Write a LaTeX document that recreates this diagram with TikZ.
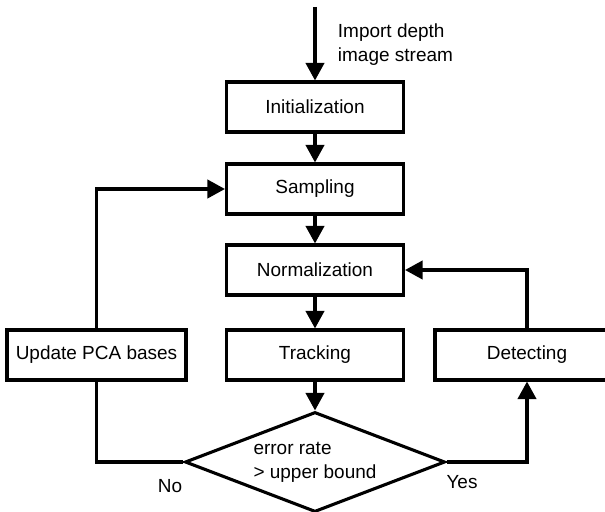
\documentclass[tikz,border=0pt]{standalone}
\usepackage{fontspec}
\setmainfont{Liberation Sans}
\usetikzlibrary{arrows.meta,shapes.geometric}

\begin{document}
\begin{tikzpicture}[x=0.025cm, y=-0.025cm,
		every node/.style={font=\fontsize{13.5pt}{17pt}\selectfont},
		stepbox/.style={draw, line width=2.2pt, minimum width=4.425cm, minimum height=1.25cm, inner sep=0pt},
		decide/.style={draw, diamond, aspect=2.6, line width=2.2pt, minimum width=6.5cm, minimum height=2.5cm, inner sep=0pt, align=left},
		flow/.style={line width=2.2pt, -{Triangle[length=0.44cm, width=0.46cm]}},
		link/.style={line width=2.2pt}]
		%%%%% START %%%%%
		
		\useasboundingbox (0, 0) rectangle (605, 512);
		
		\coordinate (in) at (315, 7);
		\node[anchor=west, align=left] (import) at (333, 45) {Import depth\\image stream};
		
		\node[stepbox] (init) at (315, 107) {Initialization};
		\node[stepbox] (sampl) at (315, 189) {Sampling};
		\node[stepbox] (norm) at (315, 270) {Normalization};
		\node[stepbox] (track) at (315, 355) {Tracking};
		\node[stepbox, minimum width=4.475cm] (update) at (96.5, 355) {Update PCA bases};
		\node[stepbox, minimum width=4.6cm] (detect) at (527, 355) {Detecting};
		
		\node[decide] (dec) at (315, 462) {error rate\\> upper bound};
		
		\node (no) at (170, 486) {No};
		\node (yes) at (462, 482) {Yes};
		
		\draw[flow] (in) -- (init);
		\draw[flow] (init) -- (sampl);
		\draw[flow] (sampl) -- (norm);
		\draw[flow] (norm) -- (track);
		\draw[flow] (track) -- (dec);
		
		\draw[link] (dec.west) -| (update.south);
		\draw[flow] (update.north) |- (sampl.west);
		\draw[flow] (dec.east) -| (detect.south);
		\draw[flow] (detect.north) |- (norm.east);
		
		%%%%% END %%%%%
\end{tikzpicture}
\end{document}
